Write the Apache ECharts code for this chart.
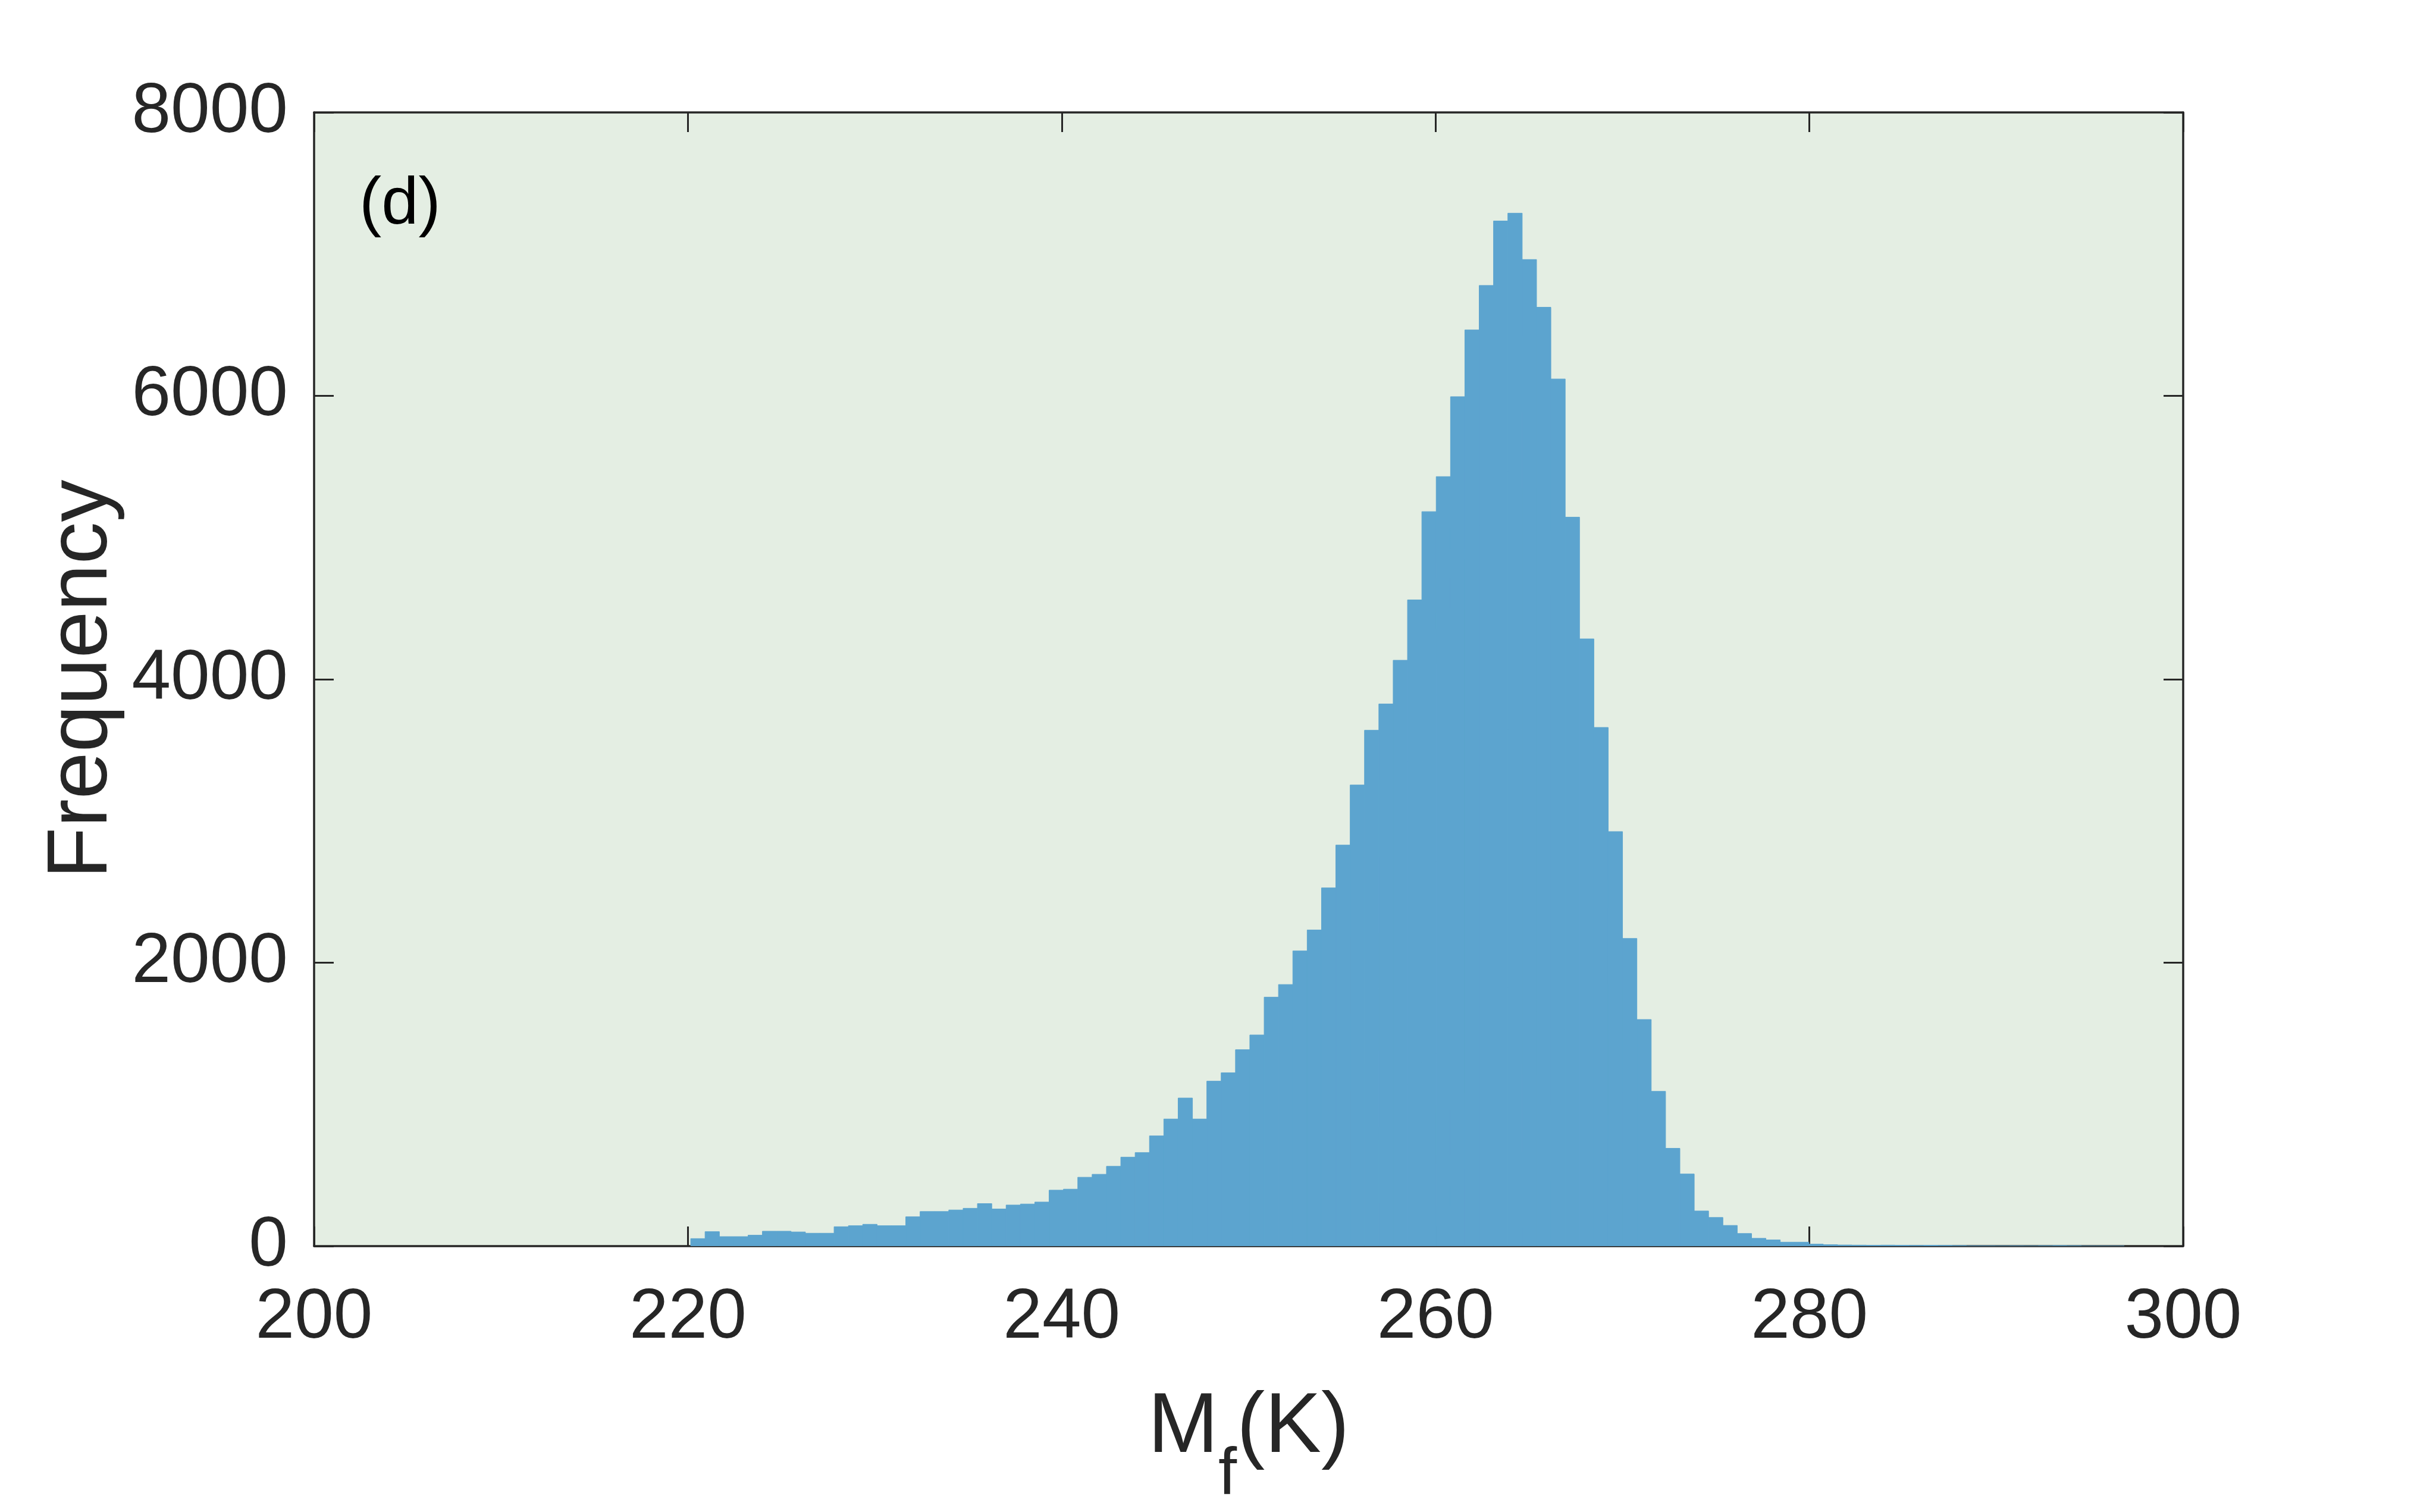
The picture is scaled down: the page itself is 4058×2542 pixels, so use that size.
<!DOCTYPE html>
<html>
<head>
<meta charset="utf-8">
<script src="https://cdn.jsdelivr.net/npm/echarts@6/dist/echarts.min.js"></script>
<style>
    html, body { margin: 0; padding: 0; background: #ffffff; }
    #chart { width: 4058px; height: 2542px; }
</style>
</head>
<body>
<div id="chart"></div>
<script>
    // histogram of Mf (K), 100 bins
    const binStart = 220.15;
    const binWidth = 0.767;
    const counts = [
        53, 102, 67, 67, 77, 105, 105, 100, 91, 91,
        137, 144, 154, 144, 144, 207, 244, 244, 255, 267,
        300, 262, 290, 297, 311, 395, 402, 486, 507, 563,
        628, 660, 778, 897, 1045, 897, 1164, 1223, 1386, 1490,
        1757, 1846, 2083, 2231, 2528, 2830, 3254, 3640, 3826, 4134,
        4560, 5183, 5430, 5994, 6465, 6779, 7234, 7289, 6962, 6625,
        6119, 5144, 4285, 3660, 2925, 2171, 1599, 1092, 690, 509,
        248, 202, 146, 89, 55, 44, 28, 28, 14, 10,
        8, 7, 6, 7, 6, 5, 6, 5, 4, 2,
        2, 1, 2, 1, 3, 4, 3, 0, 0, 0
    ];
    const xTicks = [200, 220, 240, 260, 280, 300];
    const yTicks = [0, 2000, 4000, 6000, 8000];

    const font = 'Liberation Sans';
    const textColor = '#262626';
    const barColor = '#5ca4cf';

    const binData = counts.map(function (c, i) {
        const lo = binStart + i * binWidth;
        return [lo, lo + binWidth, c];
    });

    const myChart = echarts.init(document.getElementById('chart'));

    const tickStyle = {
        show: true,
        inside: true,
        length: 33,
        lineStyle: {color: textColor, width: 3}
    };
    const lineStyle = {
        show: true,
        onZero: false,
        lineStyle: {color: textColor, width: 3.5}
    };

    const option = {
        backgroundColor: '#ffffff',
        animation: false,
        title: {
            text: '(d)',
            left: 599,
            top: 284,
            textStyle: {
                fontFamily: font,
                fontSize: 112,
                fontWeight: 'normal',
                color: '#000000'
            }
        },
        grid: {
            left: 528,
            right: 388,
            top: 189,
            bottom: 443,
            show: true,
            backgroundColor: '#e4eee3',
            borderWidth: 0
        },
        xAxis: [
            {
                type: 'value',
                min: xTicks[0],
                max: xTicks[xTicks.length - 1],
                interval: 20,
                position: 'bottom',
                axisLine: lineStyle,
                axisTick: tickStyle,
                splitLine: {show: false},
                axisLabel: {
                    fontFamily: font,
                    fontSize: 118,
                    color: textColor,
                    margin: 62
                },
                name: '{m|M}{s|f}{m|(K)}',
                nameLocation: 'middle',
                nameGap: 172,
                nameTextStyle: {
                    rich: {
                        m: {fontFamily: font, fontSize: 142, color: textColor},
                        s: {
                            fontFamily: font,
                            fontSize: 112,
                            color: textColor,
                            verticalAlign: 'bottom',
                            padding: [158, 0, 0, 0]
                        }
                    }
                }
            },
            {
                type: 'value',
                min: xTicks[0],
                max: xTicks[xTicks.length - 1],
                interval: 20,
                position: 'top',
                axisLine: lineStyle,
                axisTick: tickStyle,
                splitLine: {show: false},
                axisLabel: {show: false}
            }
        ],
        yAxis: [
            {
                type: 'value',
                min: yTicks[0],
                max: yTicks[yTicks.length - 1],
                interval: 2000,
                position: 'left',
                axisLine: lineStyle,
                axisTick: tickStyle,
                splitLine: {show: false},
                axisLabel: {
                    fontFamily: font,
                    fontSize: 118,
                    color: textColor,
                    margin: 44,
                    padding: [22, 0, 0, 0],
                    formatter: function (v) { return String(v); }
                },
                name: 'Frequency',
                nameLocation: 'middle',
                nameRotate: 90,
                nameGap: 310,
                nameTextStyle: {
                    fontFamily: font,
                    fontSize: 142,
                    color: textColor
                }
            },
            {
                type: 'value',
                min: yTicks[0],
                max: yTicks[yTicks.length - 1],
                interval: 2000,
                position: 'right',
                axisLine: lineStyle,
                axisTick: tickStyle,
                splitLine: {show: false},
                axisLabel: {show: false}
            }
        ],
        series: [
            {
                type: 'custom',
                xAxisIndex: 0,
                yAxisIndex: 0,
                clip: true,
                encode: {x: [0, 1], y: 2},
                data: binData,
                renderItem: function (params, api) {
                    const top = api.coord([api.value(0), api.value(2)]);
                    const bottom = api.coord([api.value(1), 0]);
                    return {
                        type: 'rect',
                        shape: {
                            x: top[0],
                            y: top[1],
                            width: bottom[0] - top[0],
                            height: bottom[1] - top[1]
                        },
                        style: {fill: barColor, stroke: barColor, lineWidth: 1}
                    };
                }
            }
        ]
    };
    myChart.setOption(option);
</script>
</body>
</html>
